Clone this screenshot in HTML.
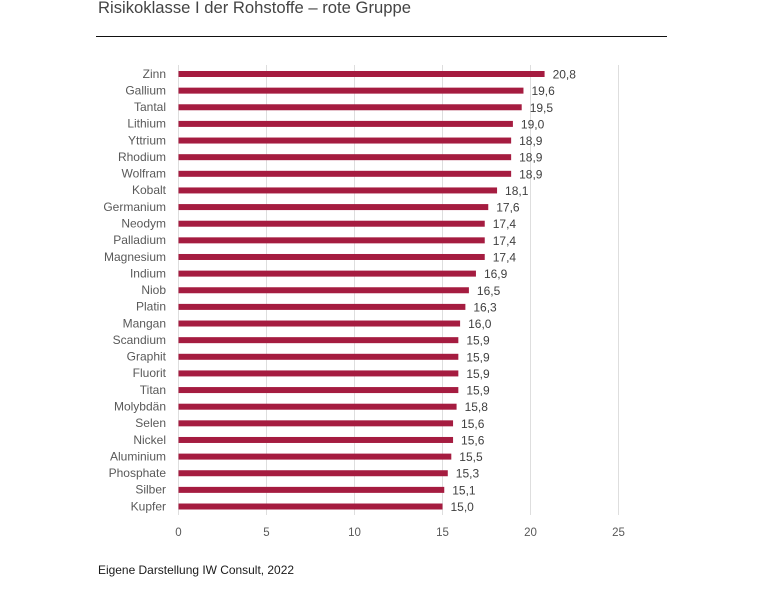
<!DOCTYPE html>
<html lang="de">
<head>
<meta charset="utf-8">
<title>Risikoklasse I der Rohstoffe – rote Gruppe</title>
<style>
html,body{margin:0;padding:0;background:#fff;}
body{width:775px;height:594px;overflow:hidden;}
svg{display:block;}
text{font-family:"Liberation Sans",sans-serif;}
</style>
</head>
<body>
<svg id="chart" width="775" height="594" viewBox="0 0 775 594" xmlns="http://www.w3.org/2000/svg">
  <text x="98" y="13" font-size="17" fill="#444" textLength="313" lengthAdjust="spacingAndGlyphs">Risikoklasse I der Rohstoffe – rote Gruppe</text>
  <line x1="96" x2="667" y1="36.5" y2="36.5" stroke="#111" stroke-width="1"/>
  <g id="grid"></g>
  <g id="bars"></g>
  <g id="xticks"></g>
  <text x="98" y="574" font-size="12" fill="#1a1a1a" textLength="196" lengthAdjust="spacingAndGlyphs">Eigene Darstellung IW Consult, 2022</text>
</svg>
<script>
const categories = ["Zinn","Gallium","Tantal","Lithium","Yttrium","Rhodium","Wolfram","Kobalt","Germanium","Neodym","Palladium","Magnesium","Indium","Niob","Platin","Mangan","Scandium","Graphit","Fluorit","Titan","Molybdän","Selen","Nickel","Aluminium","Phosphate","Silber","Kupfer"];
const seriesValues = [20.8,19.6,19.5,19.0,18.9,18.9,18.9,18.1,17.6,17.4,17.4,17.4,16.9,16.5,16.3,16.0,15.9,15.9,15.9,15.9,15.8,15.6,15.6,15.5,15.3,15.1,15.0];
const tickValues = [0,5,10,15,20,25];

const NS = "http://www.w3.org/2000/svg";
const xScale = v => 178.5 + v * 17.6;
const yScale = i => 74 + i * 16.635;
const fmt = v => v.toFixed(1).replace(".", ",");

function make(tag, attrs, parent, txt) {
  const el = document.createElementNS(NS, tag);
  for (const k in attrs) el.setAttribute(k, attrs[k]);
  if (txt !== undefined) el.textContent = txt;
  parent.appendChild(el);
  return el;
}

const gridG = document.getElementById("grid");
const barsG = document.getElementById("bars");
const ticksG = document.getElementById("xticks");

tickValues.forEach(t => {
  const line = make("line", {x1: xScale(t), x2: xScale(t), y1: 65, y2: 515, stroke: "#dedede", "stroke-width": 1}, gridG);
  
  
  const label = make("text", {x: xScale(t), y: 536, "font-size": 11.5, fill: "#595959", "text-anchor": "middle"}, ticksG, String(t));
  
  
});

categories.forEach((c, i) => {
  const v = seriesValues[i];
  const y = yScale(i);
  const cat = make("text", {x: 166, y: y + 3.8, "font-size": 12, fill: "#595959", "text-anchor": "end"}, barsG, c);
  
  
  const bar = make("rect", {x: xScale(0), y: y - 3, width: xScale(v) - xScale(0), height: 6, fill: "#a51c40"}, barsG);
  
  
  const val = make("text", {x: xScale(v) + 8, y: y + 4.5, "font-size": 12, fill: "#404040"}, barsG, fmt(v));
  
  
});
</script>
</body>
</html>
